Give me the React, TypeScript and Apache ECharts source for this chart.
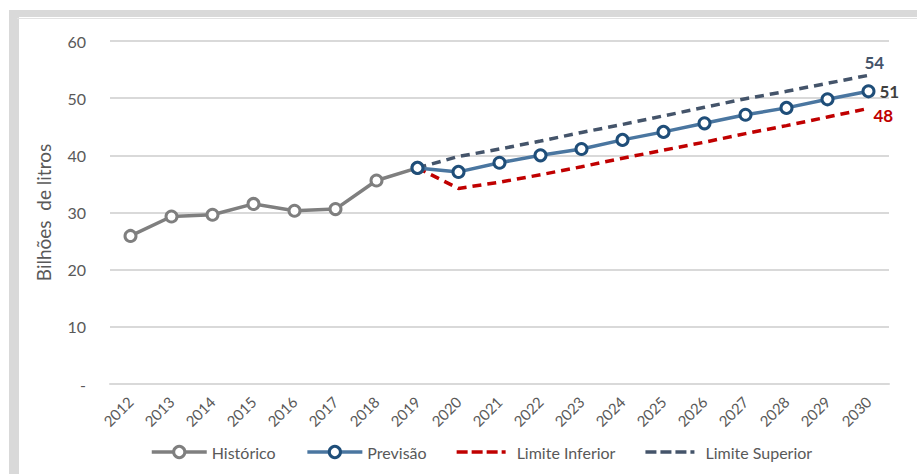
import React, { useEffect, useRef } from "react";
import * as echarts from "echarts";

const years = ["2012","2013","2014","2015","2016","2017","2018","2019","2020","2021","2022","2023","2024","2025","2026","2027","2028","2029","2030"];
const historico = [25.9, 29.3, 29.6, 31.5, 30.3, 30.6, 35.6, 37.8];
const previsao = [37.8, 37.1, 38.7, 40.0, 41.1, 42.7, 44.1, 45.6, 47.1, 48.3, 49.8, 51.2];
const limiteInferior = [37.8, 34.2, 35.3, 36.6, 38.0, 39.5, 40.9, 42.3, 43.8, 45.2, 46.7, 48.2];
const limiteSuperior = [37.8, 39.8, 41.1, 42.5, 44.0, 45.4, 46.9, 48.4, 49.9, 51.2, 52.6, 54.0];
const yTicks = [0, 10, 20, 30, 40, 50, 60];

const FONT = "Lato, 'Liberation Sans', sans-serif";
const forecastStart = years.indexOf("2019");

// dashed legend sample: three dashes and a dot, with invisible corner specks fixing the 55x14 box
const DASH_ICON =
  "path://M0,0h0.01v0.01h-0.01z M55,14h-0.01v-0.01h0.01z " +
  "M0,5.3h11v3.4h-11z M15,5.3h11v3.4h-11z M30,5.3h11v3.4h-11z M45,5.3h4v3.4h-4z";

function padForecast(vals: number[]) {
  const out: (number | null)[] = years.map(() => null);
  vals.forEach((v, i) => (out[forecastStart + i] = v));
  return out;
}

const endFmt = (p: any) => String(Math.round(Array.isArray(p.value) ? p.value[1] : p.value));

export default function App() {
  const ref = useRef<HTMLDivElement>(null);
  useEffect(() => {
    if (!ref.current) return;
    const chart = echarts.init(ref.current, null, { renderer: "svg" });
    chart.setOption({
      animation: false,
      backgroundColor: "transparent",
      grid: { left: 110, right: 28, top: 41, bottom: 90 },
      legend: {
        bottom: 9,
        left: 145,
        itemWidth: 55,
        itemHeight: 14,
        itemGap: 30,
        lineStyle: { width: "inherit" },
        itemStyle: { borderWidth: "inherit" },
        textStyle: { color: "#595959", fontSize: 16, fontFamily: FONT },
        data: [
          { name: "Histórico" },
          { name: "Previsão" },
          { name: "Limite Inferior", icon: DASH_ICON, itemStyle: { color: "#c00000", borderWidth: 0 } },
          { name: "Limite Superior", icon: DASH_ICON, itemStyle: { color: "#44546a", borderWidth: 0 } },
        ],
      },
      xAxis: {
        type: "category",
        data: years,
        boundaryGap: true,
        axisLine: { show: true, lineStyle: { color: "#d9d9d9", width: 2 } },
        axisTick: { show: false },
        axisLabel: {
          rotate: 45,
          interval: 0,
          margin: 15,
          color: "#595959",
          fontSize: 15,
          fontFamily: FONT,
        },
      },
      yAxis: {
        type: "value",
        min: yTicks[0],
        max: yTicks[yTicks.length - 1],
        interval: 10,
        name: "Bilhões  de litros",
        nameLocation: "middle",
        nameGap: 57,
        nameTextStyle: { color: "#595959", fontSize: 19, fontFamily: FONT },
        axisLine: { show: false },
        axisTick: { show: false },
        axisLabel: {
          color: "#595959",
          fontSize: 16,
          fontFamily: FONT,
          margin: 24,
          formatter: (v: number) => (v === 0 ? "-" : String(v)),
        },
        splitLine: { lineStyle: { color: "#d9d9d9", width: 2 } },
      },
      series: [
        {
          name: "Histórico",
          type: "line",
          data: historico,
          symbol: "circle",
          symbolSize: 11,
          lineStyle: { color: "#7f7f7f", width: 3.5 },
          itemStyle: { color: "#ffffff", borderColor: "#7f7f7f", borderWidth: 3 },
          z: 3,
        },
        {
          name: "Limite Inferior",
          type: "line",
          data: padForecast(limiteInferior),
          symbol: "none",
          lineStyle: { color: "#c00000", width: 3.5, type: [9, 6] },
          itemStyle: { color: "#c00000" },
          endLabel: {
            show: true,
            distance: 5,
            offset: [0, 7],
            color: "#c00000",
            fontWeight: "bold",
            fontSize: 17,
            fontFamily: FONT,
            formatter: endFmt,
          },
          z: 2,
        },
        {
          name: "Limite Superior",
          type: "line",
          data: padForecast(limiteSuperior),
          symbol: "none",
          lineStyle: { color: "#44546a", width: 3.5, type: [9, 6] },
          itemStyle: { color: "#44546a" },
          endLabel: {
            show: true,
            distance: 5,
            offset: [-9, -13],
            color: "#44546a",
            fontWeight: "bold",
            fontSize: 17,
            fontFamily: FONT,
            formatter: endFmt,
          },
          z: 2,
        },
        {
          name: "Previsão",
          type: "line",
          data: padForecast(previsao),
          symbol: "circle",
          symbolSize: 11,
          lineStyle: { color: "#4a76a0", width: 3.5 },
          itemStyle: { color: "#ffffff", borderColor: "#1f4e79", borderWidth: 3 },
          endLabel: {
            show: true,
            distance: 11,
            color: "#404040",
            fontWeight: "bold",
            fontSize: 17,
            fontFamily: FONT,
            formatter: endFmt,
          },
          z: 4,
        },
      ],
    });
    return () => chart.dispose();
  }, []);

  return (
    <div style={{ position: "fixed", left: 0, top: 0, width: 917, height: 474, background: "#ffffff", overflow: "hidden" }}>
      <div style={{ position: "absolute", left: 9, top: 10, width: 908, height: 7, background: "#d9d9d9" }} />
      <div style={{ position: "absolute", left: 9, top: 10, width: 10, height: 464, background: "#d9d9d9" }} />
      <div style={{ position: "absolute", left: 17, top: 18, width: 900, height: 1, background: "#e2e2e2" }} />
      <div ref={ref} style={{ position: "absolute", left: 0, top: 0, width: 917, height: 474 }} />
    </div>
  );
}
